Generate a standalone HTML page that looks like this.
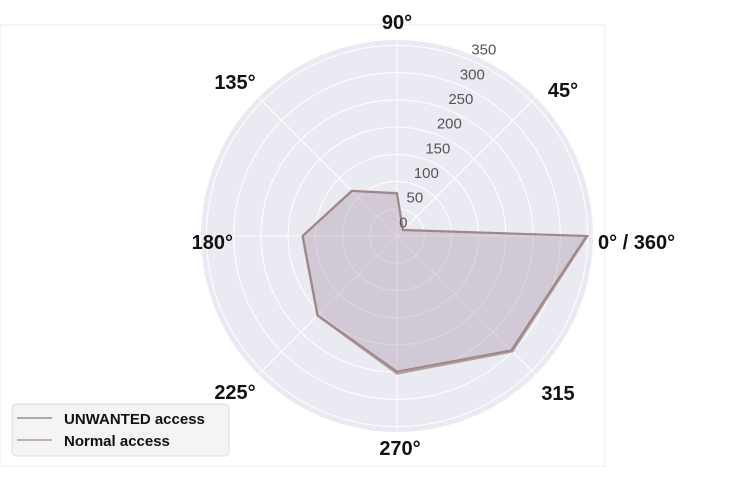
<!DOCTYPE html>
<html><head><meta charset="utf-8"><style>
body{margin:0;background:#fff;width:754px;height:476px;overflow:hidden;font-family:"Liberation Sans",sans-serif}
</style></head><body>
<svg id="chart" width="754" height="476" xmlns="http://www.w3.org/2000/svg">
<rect x="0" y="25" width="605" height="441" fill="none" stroke="#eee" stroke-width="1"/>
<g id="grid"></g>
<g id="series"></g>
<g id="labels"></g>
<g>
<rect x="12" y="404" width="217" height="52" rx="4" fill="#f4f4f7" stroke="#ddd"/>
<line x1="17" y1="418" x2="52" y2="418" stroke="#9c8888" stroke-width="1.5"/>
<text x="64" y="424" font-size="15" font-weight="bold" fill="#111">UNWANTED access</text>
<line x1="17" y1="440" x2="52" y2="440" stroke="#b49c98" stroke-width="1.5"/>
<text x="64" y="446" font-size="15" font-weight="bold" fill="#111">Normal access</text>
</g>
</svg>
<script>
const angles=[0,45,90,135,180,225,270,315];
const unwanted=[348,15,78,117,173,206,249,297];
const normal=[350,16,79,118,174,207,253,300];
const radialTicks=[0,50,100,150,200,250,300,350];
const angleLabels=["0° / 360°","45°","90°","135°","180°","225°","270°","315"];
const NS="http://www.w3.org/2000/svg";
const cx=397,cy=236,R=196,rMax=360;
const rs=v=>v/rMax*R;
const px=(a,v)=>cx+rs(v)*Math.cos(a*Math.PI/180);
const py=(a,v)=>cy-rs(v)*Math.sin(a*Math.PI/180);
function mk(tag,attrs,parent){const e=document.createElementNS(NS,tag);for(const k in attrs)e.setAttribute(k,attrs[k]);parent.appendChild(e);return e;}
const grid=document.getElementById('grid');
let bg=mk('circle',{cx:cx,cy:cy,r:R,fill:'#eaeaf2'},grid);


radialTicks.forEach(t=>{if(t===0)return;let c=mk('circle',{cx:cx,cy:cy,r:rs(t),fill:'none',stroke:'#fff','stroke-width':1},grid);

});
angles.forEach(a=>{let l=mk('line',{x1:cx,y1:cy,x2:px(a,rMax),y2:py(a,rMax),stroke:'#fff','stroke-width':1},grid);

});
const ser=document.getElementById('series');
function poly(vals,stroke,name){
 const pts=vals.map((v,i)=>px(angles[i],v).toFixed(1)+','+py(angles[i],v).toFixed(1)).join(' ');
 let p=mk('polygon',{points:pts,fill:'rgba(180,160,180,0.25)',stroke:stroke,'stroke-width':2},ser);
 
 
}
poly(normal,'#b49c98','series-normal-access');
poly(unwanted,'#9c8888','series-unwanted-access');
const lab=document.getElementById('labels');
radialTicks.forEach(t=>{const a=65*Math.PI/180,r=rs(t)+15;
 let tx=mk('text',{x:cx+r*Math.cos(a),y:cy-r*Math.sin(a)+5,'font-size':15,fill:'#555','text-anchor':'middle'},lab);
 tx.textContent=t;
 
 });
const apos=[[598,249,'start'],[563,97,'middle'],[397,29,'middle'],[235,89,'middle'],[233,249,'end'],[235,399,'middle'],[400,455,'middle'],[558,400,'middle']];
angleLabels.forEach((s,i)=>{let t=mk('text',{x:apos[i][0],y:apos[i][1],'font-size':20,'font-weight':'bold',fill:'#111','text-anchor':apos[i][2]},lab);
 t.textContent=s;
 
 });
</script>
</body></html>
